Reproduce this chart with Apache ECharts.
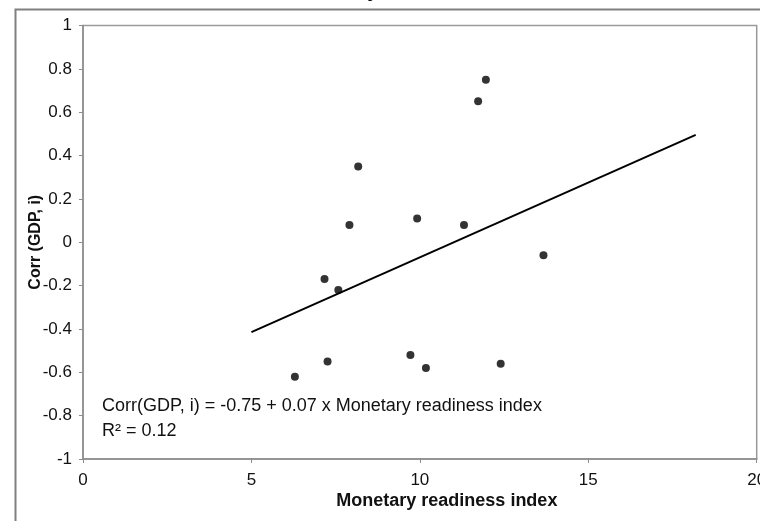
<!DOCTYPE html>
<html>
<head>
<meta charset="utf-8">
<script src="https://cdn.jsdelivr.net/npm/echarts@6/dist/echarts.min.js"></script>
<style>
html,body{margin:0;padding:0;background:#fff;}
#chart{width:760px;height:521px;}
</style>
</head>
<body>
<div id="chart"></div>
<script>
// Data
const readinessIndex = [11.96, 11.73, 8.17, 7.91, 9.92, 11.31, 13.67, 7.17, 7.58, 7.26, 6.29, 9.72, 10.18, 12.40];
const corrGdpI      = [0.75, 0.65, 0.35, 0.08, 0.11, 0.08, -0.06, -0.17, -0.22, -0.55, -0.62, -0.52, -0.58, -0.56];
const trendX = [5, 18.19];
const trendY = [-0.415, 0.495];
const xTickLabels = ['0', '5', '10', '15', '20'];
const yTickLabels = ['-1', '-0.8', '-0.6', '-0.4', '-0.2', '0', '0.2', '0.4', '0.6', '0.8', '1'];
const xAxisTitle = 'Monetary readiness index';
const yAxisTitle = 'Corr (GDP, i)';
const equationText = 'Corr(GDP, i) = -0.75 + 0.07 x Monetary readiness index';
const r2Text = 'R\u00B2 = 0.12';
const topTitle = 'and Monetary readiness index';

const font = '"Liberation Sans", Arial, sans-serif';
const chart = echarts.init(document.getElementById('chart'), null, {renderer: 'canvas'});

const points = readinessIndex.map((x, i) => [x, corrGdpI[i]]);
const trend = trendX.map((x, i) => [x, trendY[i]]);

chart.setOption({
  animation: false,
  backgroundColor: '#fff',
  grid: {left: 83, top: 25.5, right: 3.3, bottom: 62, show: true, borderColor: '#9a9a9a', borderWidth: 1.5,
    containLabel: false, outerBoundsMode: 'none'},
  xAxis: {
    type: 'value', min: 0, max: 20, interval: 5,
    axisLine: {show: true, onZero: false, lineStyle: {color: '#8c8c8c', width: 1.5}},
    axisTick: {show: true, inside: false, length: 4, lineStyle: {color: '#8c8c8c'}},
    splitLine: {show: false},
    axisLabel: {margin: 13, fontFamily: font, fontSize: 17, color: '#111',
      formatter: v => xTickLabels[Math.round(v / 5)]},
    name: xAxisTitle, nameLocation: 'middle', nameGap: 33, nameMoveOverlap: false,
    nameTextStyle: {fontFamily: font, fontSize: 18, fontWeight: 'bold', color: '#111', padding: [0, 0, 0, 54]}
  },
  yAxis: {
    type: 'value', min: -1, max: 1, interval: 0.2,
    axisLine: {show: true, onZero: false, lineStyle: {color: '#8c8c8c', width: 1.5}},
    axisTick: {show: true, inside: false, length: 4, lineStyle: {color: '#8c8c8c'}},
    splitLine: {show: false},
    axisLabel: {margin: 11, fontFamily: font, fontSize: 17, color: '#111',
      formatter: v => yTickLabels[Math.round((v + 1) / 0.2)]},
    name: yAxisTitle, nameLocation: 'middle', nameGap: 39, nameMoveOverlap: false,
    nameTextStyle: {fontFamily: font, fontSize: 16, fontWeight: 'bold', color: '#111'}
  },
  series: [
    {type: 'scatter', data: points, symbol: 'circle', symbolSize: 8,
      itemStyle: {color: '#000'}, z: 3},
    {type: 'line', data: trend, showSymbol: false, symbol: 'none',
      lineStyle: {color: '#000', width: 2}, z: 2}
  ],
  graphic: [
    {type: 'rect', left: 13, top: 7, shape: {width: 800, height: 600},
      style: {fill: 'none', stroke: '#808080', lineWidth: 2}, z: -1, silent: true},
    {type: 'text', x: 392, y: 2, style: {text: topTitle, font: '26px "Liberation Serif", "Times New Roman", serif',
      fill: '#000', align: 'center', verticalAlign: 'bottom'}},
    {type: 'text', x: 102, y: 406, style: {text: equationText, font: '18px ' + font,
      fill: '#111', align: 'left', verticalAlign: 'middle'}},
    {type: 'text', x: 102, y: 431, style: {text: r2Text, font: '18px ' + font,
      fill: '#111', align: 'left', verticalAlign: 'middle'}}
  ]
});
</script>
</body>
</html>
